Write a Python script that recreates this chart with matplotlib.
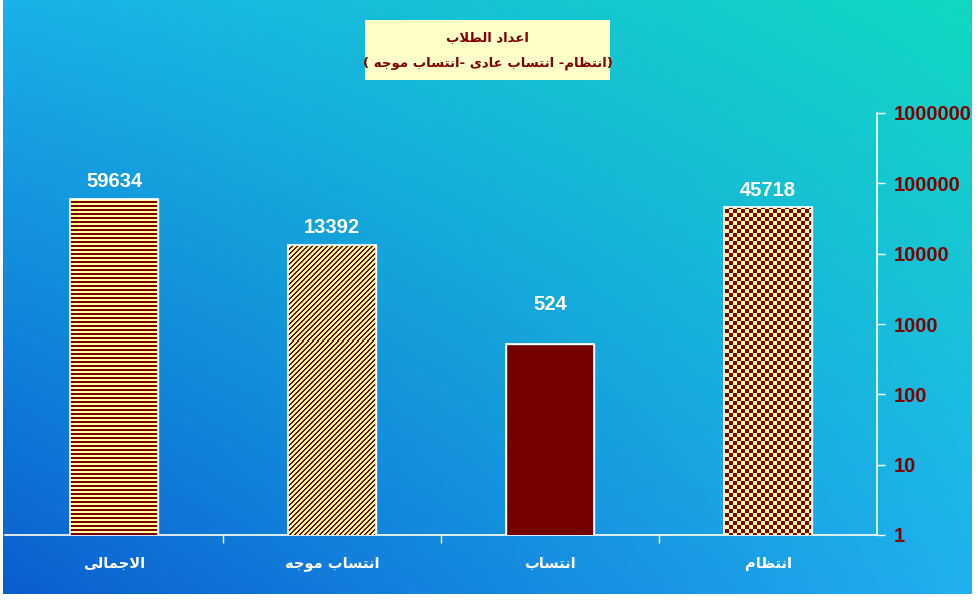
import matplotlib
matplotlib.use('Agg')
import matplotlib.pyplot as plt
from matplotlib.patches import Rectangle
from matplotlib.ticker import FixedLocator, NullLocator, FuncFormatter
import numpy as np

# البيانات
categories = ['الاجمالى', 'انتساب موجه', 'انتساب', 'انتظام']
students = [59634, 13392, 524, 45718]
y_ticks = [1, 10, 100, 1000, 10000, 100000, 1000000]
title_lines = ['اعداد الطلاب', '(انتظام- انتساب عادى -انتساب موجه )']

# matplotlib has no arabic shaping, so map letters to presentation forms by hand
FORMS = {
    'ا': (0xFE8D, 0xFE8E, None, None),
    'ب': (0xFE8F, 0xFE90, 0xFE91, 0xFE92),
    'ت': (0xFE95, 0xFE96, 0xFE97, 0xFE98),
    'ج': (0xFE9D, 0xFE9E, 0xFE9F, 0xFEA0),
    'د': (0xFEA9, 0xFEAA, None, None),
    'س': (0xFEB1, 0xFEB2, 0xFEB3, 0xFEB4),
    'ط': (0xFEC1, 0xFEC2, 0xFEC3, 0xFEC4),
    'ظ': (0xFEC5, 0xFEC6, 0xFEC7, 0xFEC8),
    'ع': (0xFEC9, 0xFECA, 0xFECB, 0xFECC),
    'ل': (0xFEDD, 0xFEDE, 0xFEDF, 0xFEE0),
    'م': (0xFEE1, 0xFEE2, 0xFEE3, 0xFEE4),
    'ن': (0xFEE5, 0xFEE6, 0xFEE7, 0xFEE8),
    'ه': (0xFEE9, 0xFEEA, 0xFEEB, 0xFEEC),
    'و': (0xFEED, 0xFEEE, None, None),
    'ى': (0xFEEF, 0xFEF0, 0xFBE8, 0xFBE9),
    'لا': (0xFEFB, 0xFEFC, None, None),
}


def ar(s):
    toks = []
    i = 0
    while i < len(s):
        if s[i] == 'ل' and i + 1 < len(s) and s[i + 1] == 'ا':
            toks.append('لا')
            i += 2
        else:
            toks.append(s[i])
            i += 1
    out = []
    for k, t in enumerate(toks):
        if t not in FORMS:
            out.append(t)
            continue
        f = FORMS[t]
        prev = toks[k - 1] if k > 0 else None
        nxt = toks[k + 1] if k + 1 < len(toks) else None
        jp = prev in FORMS and FORMS[prev][2] is not None
        jn = f[2] is not None and nxt in FORMS
        idx = 3 if (jp and jn) else 1 if jp else 2 if jn else 0
        out.append(chr(f[idx]))
    vis = ''.join(out)[::-1]
    return vis.translate(str.maketrans('()', ')('))


W, H = 977, 600
DARK = '#800000'
YELLOW = '#ffff99'

fig = plt.figure(figsize=(W / 100, H / 100), dpi=100)
fig.patch.set_facecolor('white')

# фон: градиент
bg = fig.add_axes([3 / W, 6 / H, 969 / W, 594 / H])
bg.set_axis_off()
tl = np.array([26, 176, 232]) / 255
tr = np.array([16, 216, 192]) / 255
bl = np.array([10, 94, 208]) / 255
br = np.array([32, 176, 240]) / 255
gy, gx = np.mgrid[0:1:200j, 0:1:300j]
grad = ((1 - gy)[..., None] * ((1 - gx)[..., None] * tl + gx[..., None] * tr)
        + gy[..., None] * ((1 - gx)[..., None] * bl + gx[..., None] * br))
bg.imshow(grad, aspect='auto', extent=[0, 1, 0, 1], interpolation='bilinear')
bg.set_xlim(0, 1)
bg.set_ylim(0, 1)

ax_l, ax_r, ax_t, ax_b = 5, 877, 113, 535
ax = fig.add_axes([ax_l / W, (H - ax_b) / H, (ax_r - ax_l) / W, (ax_b - ax_t) / H])
ax.patch.set_alpha(0)

x = np.arange(len(categories))
bars = ax.bar(x, students, width=0.4, color=DARK, edgecolor='white', linewidth=1, zorder=3)
ax.set_yscale('log')
ax.set_ylim(1, 1e6)
ax.set_xlim(-0.5, len(categories) - 0.5)

# узоры заливки: картинка в пикселях осей, обрезанная по столбцу
pw, ph = ax_r - ax_l, ax_b - ax_t
cols, rows = np.meshgrid(np.arange(pw), np.arange(ph))
masks = [
    (rows % 4) < 2,
    ((cols + rows) % 5) < 2,
    None,
    ((cols // 4 + rows // 4) % 2) == 0,
]
dark_rgb = np.array([128, 0, 0]) / 255
yel_rgb = np.array([255, 255, 153]) / 255
for bar, m in zip(bars, masks):
    if m is None:
        bar.set_facecolor('#760000')
        continue
    img = np.where(m[..., None], dark_rgb, yel_rgb)
    im = ax.imshow(img, extent=[0, 1, 0, 1], transform=ax.transAxes, origin='upper',
                   interpolation='nearest', aspect='auto', zorder=3.5)
    im.set_clip_path(bar)
    bar.set_facecolor(YELLOW)
# белая рамка поверх узора
for bar in bars:
    ax.add_patch(Rectangle((bar.get_x(), 1e-3), bar.get_width(), bar.get_height(),
                           fill=False, edgecolor='white', linewidth=1.2, zorder=4))

label_offsets = [18, 17, 39, 17]
for xi, v, off in zip(x, students, label_offsets):
    ax.annotate(str(v), xy=(xi, v), xytext=(0, off * 0.72), textcoords='offset points',
                ha='center', va='center', color='white', fontsize=14.5, fontweight='bold',
                family='Liberation Sans', zorder=5)

ax.set_xticks(np.arange(len(categories) - 1) + 0.5)
ax.set_xticklabels([])
ax.set_xticks(x, minor=True)
ax.set_xticklabels([ar(c) for c in categories], minor=True, color='white',
                   fontsize=10.5, fontweight='bold', family='DejaVu Sans')
ax.tick_params(axis='x', which='major', direction='out', length=6, color='white', width=1)
ax.tick_params(axis='x', which='minor', length=0, pad=15)

ax.yaxis.tick_right()
ax.yaxis.set_major_locator(FixedLocator(y_ticks))
ax.yaxis.set_minor_locator(NullLocator())
ax.yaxis.set_major_formatter(FuncFormatter(lambda v, p: f'{int(round(v))}'))
ax.tick_params(axis='y', direction='out', length=6, color='white', width=1, pad=6,
               labelcolor=DARK, labelsize=14.5)
for t in ax.get_yticklabels():
    t.set_fontweight('bold')
    t.set_family('Liberation Sans')

for s in ['top', 'left']:
    ax.spines[s].set_visible(False)
for s in ['right', 'bottom']:
    ax.spines[s].set_color('white')
    ax.spines[s].set_linewidth(1.2)

# заголовок в жёлтой рамке
bx0, bx1, by0, by1 = 365, 610, 20, 80
fig.patches.append(Rectangle((bx0 / W, 1 - by1 / H), (bx1 - bx0) / W, (by1 - by0) / H,
                             transform=fig.transFigure, facecolor='#ffffc8',
                             edgecolor='none', zorder=5))
fig.text((bx0 + bx1) / 2 / W, 1 - 38 / H, ar(title_lines[0]), ha='center', va='center',
         color=DARK, fontsize=9.5, fontweight='bold', family='DejaVu Sans', zorder=6)
fig.text((bx0 + bx1) / 2 / W, 1 - 63 / H, ar(title_lines[1]), ha='center', va='center',
         color=DARK, fontsize=9.5, fontweight='bold', family='DejaVu Sans', zorder=6)

fig.savefig('out.png', dpi=100)
